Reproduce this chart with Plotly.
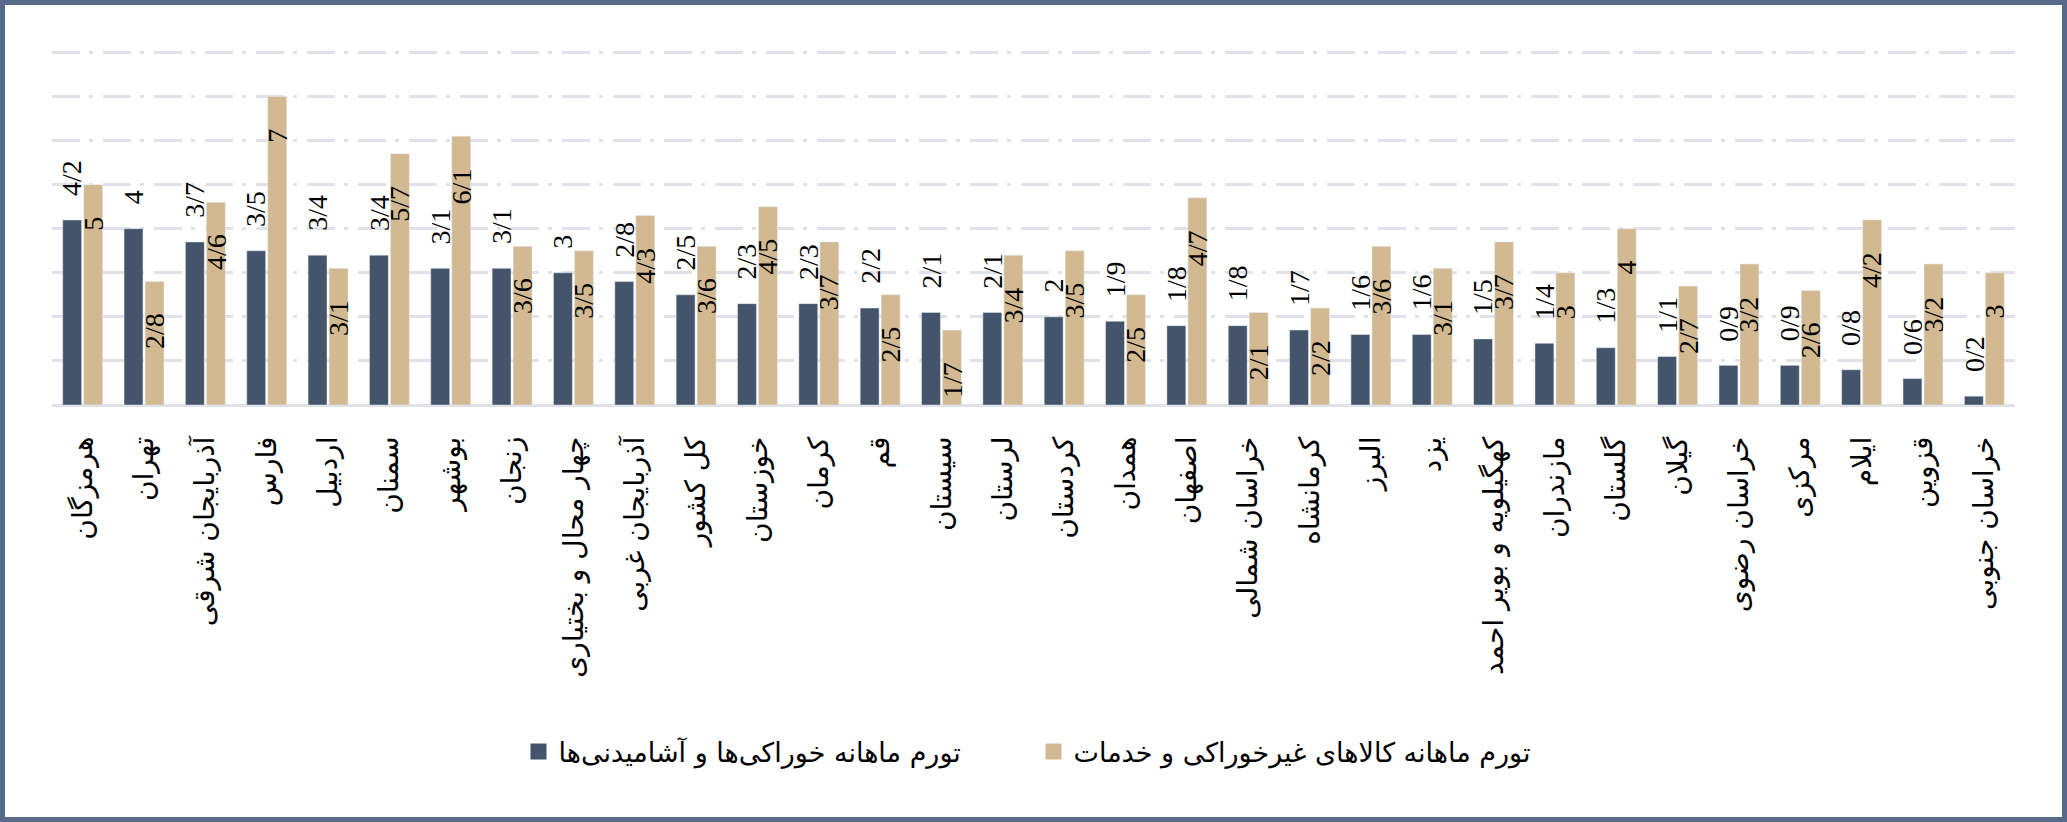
import plotly.graph_objects as go

# monthly inflation by province (percent), left to right as in the source chart
provinces = [
    "هرمزگان", "تهران", "آذربایجان شرقی", "فارس", "اردبیل", "سمنان", "بوشهر",
    "زنجان", "چهار محال و بختیاری", "آذربایجان غربی", "کل کشور", "خوزستان",
    "کرمان", "قم", "سیستان", "لرستان", "کردستان", "همدان", "اصفهان",
    "خراسان شمالی", "کرمانشاه", "البرز", "یزد", "کهگیلویه و بویر احمد",
    "مازندران", "گلستان", "گیلان", "خراسان رضوی", "مرکزی", "ایلام", "قزوین",
    "خراسان جنوبی",
]
food = [4.2, 4, 3.7, 3.5, 3.4, 3.4, 3.1, 3.1, 3, 2.8, 2.5, 2.3, 2.3, 2.2, 2.1, 2.1,
        2, 1.9, 1.8, 1.8, 1.7, 1.6, 1.6, 1.5, 1.4, 1.3, 1.1, 0.9, 0.9, 0.8, 0.6, 0.2]
nonfood = [5, 2.8, 4.6, 7, 3.1, 5.7, 6.1, 3.6, 3.5, 4.3, 3.6, 4.5, 3.7, 2.5, 1.7, 3.4,
           3.5, 2.5, 4.7, 2.1, 2.2, 3.6, 3.1, 3.7, 3, 4, 2.7, 3.2, 2.6, 4.2, 3.2, 3]

food_name = "تورم ماهانه خوراکی\u200cها و آشامیدنی\u200cها"
nonfood_name = "تورم ماهانه کالاهای غیرخوراکی و خدمات"

DARK = "#44546a"
TAN = "#d2b991"
GRID = "#dfe2e9"
BORDER = "#576a89"

W, H = 2067, 822
ML, MR, MT, MB = 52, 52, 48, 417
PW, PH = W - ML - MR, H - MT - MB

num_font = dict(family="Liberation Serif, Times New Roman, serif", size=28, color="black")
tick_font = dict(family="DejaVu Sans, sans-serif", size=28, color="black")
legend_font = dict(family="DejaVu Sans, sans-serif", size=27, color="black")


def fa_num(v):
    # persian style decimal separator
    return f"{v:g}".replace(".", "/")


fig = go.Figure()
fig.add_trace(go.Bar(x=provinces, y=food, name=food_name, marker_color=DARK,
                     showlegend=False, hoverinfo="x+y"))
fig.add_trace(go.Bar(x=provinces, y=nonfood, name=nonfood_name, marker_color=TAN,
                     showlegend=False, hoverinfo="x+y"))

# legend entries with bigger square swatches
for name, color in [(food_name, DARK), (nonfood_name, TAN)]:
    fig.add_trace(go.Scatter(x=[None], y=[None], mode="markers", name=name,
                             marker=dict(symbol="square", size=16, color=color)))

# value labels: food above the bar, non-food inside near the top
for p, v in zip(provinces, food):
    fig.add_annotation(x=p, y=v, text=fa_num(v), textangle=-90, showarrow=False,
                       xanchor="center", yanchor="bottom", xshift=-10.5, yshift=22,
                       font=num_font)
for p, v in zip(provinces, nonfood):
    fig.add_annotation(x=p, y=v, text=fa_num(v), textangle=-90, showarrow=False,
                       xanchor="center", yanchor="top", xshift=10.5, yshift=-30,
                       font=num_font)

# outer frame of the picture
pad = 2.5
fig.add_shape(type="rect", xref="paper", yref="paper",
              x0=(pad - ML) / PW, x1=(W - pad - ML) / PW,
              y0=-(H - pad - (H - MB)) / PH, y1=((H - MB) - pad) / PH,
              line=dict(color=BORDER, width=5), fillcolor="rgba(0,0,0,0)")

fig.update_layout(
    width=W, height=H,
    margin=dict(l=ML, r=MR, t=MT, b=MB),
    paper_bgcolor="white", plot_bgcolor="white",
    barmode="group", bargap=0.315, bargroupgap=0.1,
    showlegend=True,
    legend=dict(orientation="h", x=0.5, xanchor="center", y=-0.972, yanchor="middle",
                font=legend_font, entrywidth=470, itemsizing="trace"),
    xaxis=dict(tickangle=-90, tickfont=tick_font, showgrid=False, showline=False,
               ticks="", ticklabelstandoff=25),
    yaxis=dict(range=[0, 8.1], dtick=1, showticklabels=False, showgrid=True,
               gridcolor=GRID, gridwidth=2.5, griddash="28px,9px,4px,10px",
               zeroline=True, zerolinecolor=GRID, zerolinewidth=3),
)

# drop the default page margin so the frame sits on the window edge
fig.write_html("out.html", config={"displayModeBar": False},
               post_script="document.body.style.margin='0px';")
